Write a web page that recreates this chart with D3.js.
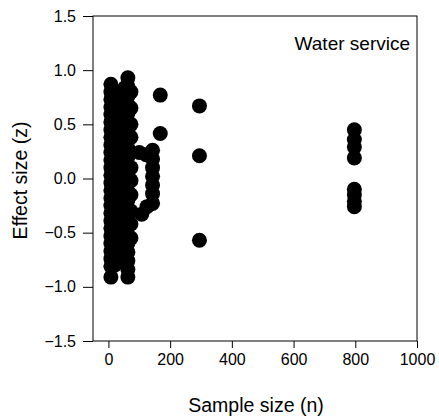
<!DOCTYPE html>
<html><head><meta charset="utf-8">
<script src="https://cdn.jsdelivr.net/npm/d3@7"></script>
<style>body{margin:0;background:#fff}svg{display:block}text{font-family:"Liberation Sans",Arial,sans-serif;fill:#000}</style>
</head><body>
<svg id="c" width="439" height="419"></svg>
<script>
// Data: sample size (n) and effect size (z)
const sampleSize = [
  8,8,8,8,8,8,8,8,8,8,8,8,8,8,8,8,8,8,8,8,8,8,8,8,8,8,
  20,20,20,20,20,20,20,20,20,20,20,20,20,20,20,20,20,
  32,32,32,32,32,32,32,32,32,32,32,32,32,32,32,32,
  45,45,45,45,45,45,45,45,45,45,45,45,45,45,45,45,
  54,54,54,54,54,54,54,54,54,54,54,54,54,54,54,54,
  63,63,63,63,63,63,63,63,63,63,63,63,63,63,63,63,63,63,63,63,63,63,63,63,
  73,73,73,73,73,73,73,73,73,73,73,
  100,122,108,125,
  143,143,143,143,143,143,143,
  168,168,
  295,295,295,
  797,797,797,797,797,797,797,797
];
const effectSize = [
  0.87,0.80,0.73,0.66,0.59,0.52,0.45,0.38,0.31,0.24,0.17,0.10,0.03,-0.04,-0.11,-0.18,-0.25,-0.32,-0.39,-0.46,-0.53,-0.60,-0.67,-0.74,-0.81,-0.91,
  0.80,0.70,0.60,0.50,0.40,0.30,0.20,0.10,0.00,-0.10,-0.20,-0.30,-0.40,-0.50,-0.60,-0.70,-0.80,
  0.78,0.68,0.58,0.48,0.38,0.28,0.18,0.08,-0.02,-0.12,-0.22,-0.32,-0.42,-0.52,-0.62,-0.75,
  0.80,0.70,0.60,0.50,0.40,0.30,0.20,0.10,0.00,-0.10,-0.20,-0.30,-0.40,-0.50,-0.60,-0.72,
  0.84,0.74,0.64,0.54,0.44,0.34,0.24,0.14,0.04,-0.06,-0.16,-0.26,-0.36,-0.46,-0.56,-0.70,
  0.93,0.85,0.76,0.68,0.60,0.52,0.44,0.36,0.28,0.20,0.12,0.04,-0.04,-0.12,-0.20,-0.28,-0.36,-0.44,-0.52,-0.60,-0.68,-0.76,-0.84,-0.91,
  0.80,0.65,0.50,0.38,0.24,0.10,-0.02,-0.15,-0.30,-0.42,-0.55,
  0.24,0.22,-0.33,-0.26,
  0.26,0.18,0.10,0.02,-0.06,-0.14,-0.23,
  0.77,0.415,
  0.67,0.21,-0.57,
  0.45,0.36,0.29,0.19,-0.10,-0.15,-0.21,-0.26
];
const xTicks = [0,200,400,600,800,1000];
const yTicks = [-1.5,-1.0,-0.5,0.0,0.5,1.0,1.5];
const panelLabel = "Water service";
const xTitle = "Sample size (n)";
const yTitle = "Effect size (z)";

const svg = d3.select("#c");
const L = 93, R = 417, T = 16, B = 341;
const x = d3.scaleLinear().domain([-50,1000]).range([L,R]);
const y = d3.scaleLinear().domain([-1.5,1.5]).range([B,T]);

// points
svg.append("g").selectAll("circle").data(sampleSize.map((n,i)=>({n, z:effectSize[i]})))
  .join("circle").attr("cx",d=>x(d.n)).attr("cy",d=>y(d.z)).attr("r",7.5).attr("fill","#000");

// axes
const xa = svg.append("g").attr("transform",`translate(0,${B})`)
  .call(d3.axisBottom(x).tickValues(xTicks).tickSize(7).tickPadding(6).tickFormat(d3.format("d")));
const ya = svg.append("g").attr("transform",`translate(${L},0)`)
  .call(d3.axisLeft(y).tickValues(yTicks).tickSize(10).tickPadding(7).tickFormat(d3.format(".1f")));
[xa,ya].forEach(a=>{
  a.select(".domain").remove();
  a.selectAll("line").attr("stroke","#000").attr("stroke-width",1);
  a.selectAll("text").style("font-size","16px").style("font-family","'Liberation Sans',Arial,sans-serif");
});

// frame
svg.append("rect").attr("x",L).attr("y",T).attr("width",R-L).attr("height",B-T)
  .attr("fill","none").attr("stroke","#000").attr("stroke-width",1);

svg.append("text").attr("x",410).attr("y",50).attr("text-anchor","end")
  .style("font-size","19px").text(panelLabel);
svg.append("text").attr("x",(L+R)/2+1).attr("y",412).attr("text-anchor","middle")
  .style("font-size","19.5px").text(xTitle);
svg.append("text").attr("transform",`translate(27,${(T+B)/2+2}) rotate(-90)`).attr("text-anchor","middle")
  .style("font-size","19.5px").text(yTitle);
</script>
</body></html>
